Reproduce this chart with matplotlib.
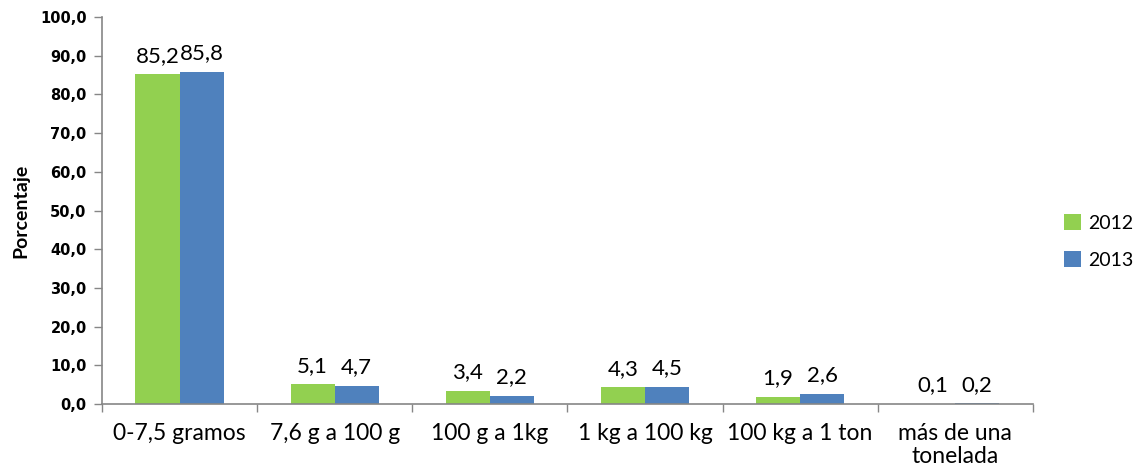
import matplotlib
matplotlib.use("Agg")
import matplotlib.pyplot as plt
import numpy as np

categories = ["0-7,5 gramos", "7,6 g a 100 g", "100 g a 1kg", "1 kg a 100 kg",
              "100 kg a 1 ton", "más de una\ntonelada"]
series_names = ["2012", "2013"]
values_2012 = [85.2, 5.1, 3.4, 4.3, 1.9, 0.1]
values_2013 = [85.8, 4.7, 2.2, 4.5, 2.6, 0.2]
yticks = [0, 10, 20, 30, 40, 50, 60, 70, 80, 90, 100]

GREEN = "#92D050"
BLUE = "#4F81BD"
AXIS_GRAY = "#868686"

plt.rcParams['font.family'] = ['Lato', 'DejaVu Sans']


def fmt(v):
    return f"{v:.1f}".replace(".", ",")


fig = plt.figure(figsize=(11.38, 4.72), dpi=100)
ax = fig.add_axes([0.0896, 0.144, 0.818, 0.820])

x = np.arange(len(categories))
w = 0.284
bars1 = ax.bar(x - w / 2, values_2012, w, color=GREEN, label=series_names[0])
bars2 = ax.bar(x + w / 2, values_2013, w, color=BLUE, label=series_names[1])

for bars, vals in ((bars1, values_2012), (bars2, values_2013)):
    for b, v in zip(bars, vals):
        ax.text(b.get_x() + b.get_width() / 2, v + 2.2, fmt(v),
                ha="center", va="bottom", fontsize=16, color="black")

ax.set_xlim(-0.5, len(categories) - 0.5)
ax.set_ylim(0, 100)
ax.set_yticks(yticks)
ax.set_yticklabels([fmt(t) for t in yticks], fontsize=10.5, fontweight="bold",
                   family="DejaVu Sans")

# category labels at centres, tick marks at boundaries
ax.set_xticks(np.arange(len(categories) + 1) - 0.5)
ax.set_xticklabels([])
ax.tick_params(axis="x", length=6, width=1, color=AXIS_GRAY, direction="out")
ax.tick_params(axis="y", length=6, width=1, color=AXIS_GRAY, direction="out", pad=5)
for xi, c in zip(x, categories):
    ax.text(xi, -5.0, c, ha="center", va="top", fontsize=16.5,
            transform=ax.transData, linespacing=1.1)

for side in ("top", "right"):
    ax.spines[side].set_visible(False)
for side in ("left", "bottom"):
    ax.spines[side].set_color(AXIS_GRAY)
    ax.spines[side].set_linewidth(1.2)

ax.set_ylabel("Porcentaje", fontsize=14, fontweight="bold", labelpad=8)

ax.legend(loc="center left", bbox_to_anchor=(1.015, 0.42), frameon=False,
          fontsize=14, handlelength=0.85, handleheight=0.85, handletextpad=0.35,
          labelspacing=1.0)

fig.savefig("out.png", dpi=100)
